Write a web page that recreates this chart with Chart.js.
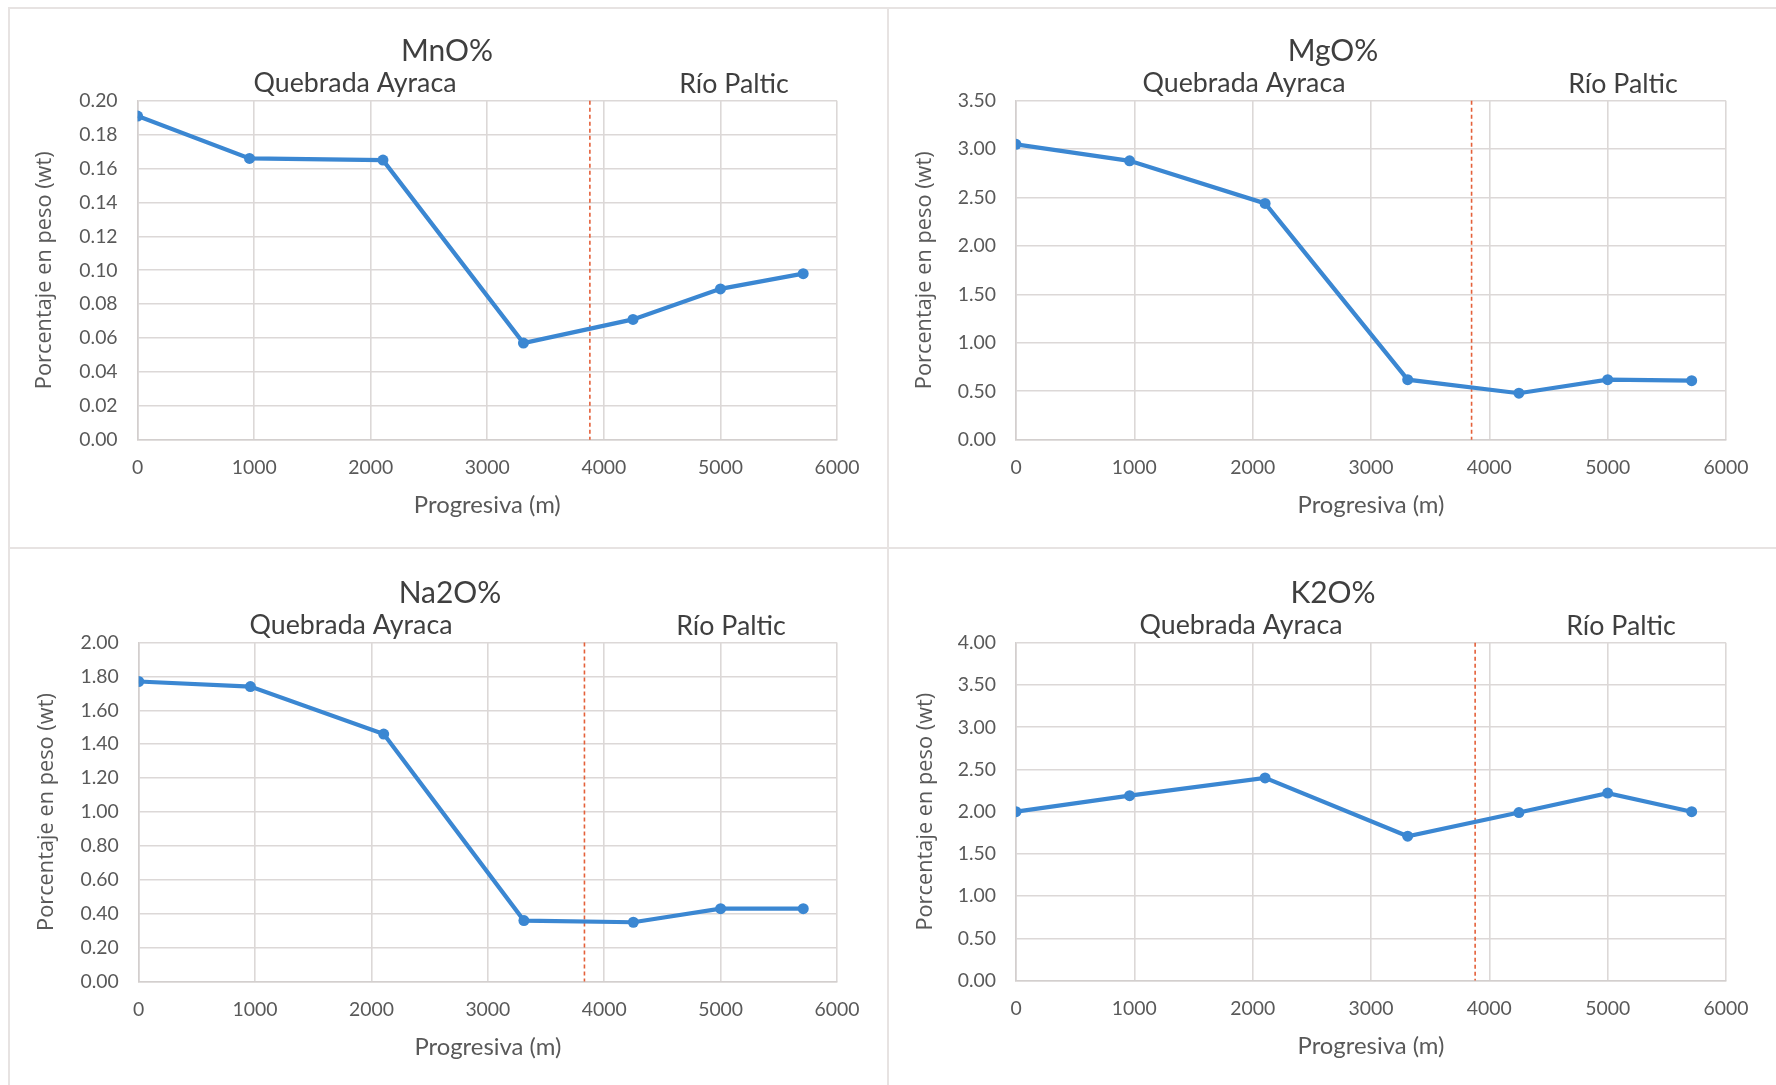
<!DOCTYPE html>
<html>
<head>
<meta charset="utf-8">
<script src="https://cdn.jsdelivr.net/npm/chart.js@4.4.1/dist/chart.umd.min.js"></script>
<style>
  html, body { margin: 0; padding: 0; background: #ffffff; }
  #page { position: relative; width: 1776px; height: 1085px; overflow: hidden; background: #ffffff; }
  .panel { position: absolute; }
  .panel canvas { display: block; }
  .rule { position: absolute; background: #e7e3e2; }
</style>
</head>
<body>
<div id="page">
  <div class="panel" style="left:0;top:0;width:888px;height:548px"><canvas id="c0" width="888" height="548"></canvas></div>
  <div class="panel" style="left:888px;top:0;width:888px;height:548px"><canvas id="c1" width="888" height="548"></canvas></div>
  <div class="panel" style="left:0;top:548px;width:888px;height:537px"><canvas id="c2" width="888" height="537"></canvas></div>
  <div class="panel" style="left:888px;top:548px;width:888px;height:537px"><canvas id="c3" width="888" height="537"></canvas></div>
  <div class="rule" style="left:8px;top:7px;width:1768px;height:2px"></div>
  <div class="rule" style="left:8px;top:7px;width:2px;height:1078px"></div>
  <div class="rule" style="left:887px;top:7px;width:2px;height:1078px"></div>
  <div class="rule" style="left:8px;top:547px;width:1768px;height:2px"></div>
</div>
<script>
// ---------------- data ----------------
const progresiva = [0, 960, 2105, 3310, 4250, 5000, 5710];          // m
const mnoValues  = [0.191, 0.166, 0.165, 0.057, 0.071, 0.089, 0.098];
const mgoValues  = [3.05, 2.88, 2.44, 0.62, 0.48, 0.62, 0.61];
const na2oValues = [1.77, 1.74, 1.46, 0.36, 0.35, 0.43, 0.43];
const k2oValues  = [2.00, 2.19, 2.40, 1.71, 1.99, 2.22, 2.00];
const chartTitles = ['MnO%', 'MgO%', 'Na2O%', 'K2O%'];
const yMaxima = [0.20, 3.50, 2.00, 4.00];
const yStepSizes = [0.02, 0.50, 0.20, 0.50];
const dividerPositions = [3880, 3850, 3830, 3880];                 // m, limit between the two streams
const xTicks = [0, 6000, 1000];                                     // min, max, step
const sectionLabels = ['Quebrada Ayraca', 'Río Paltic'];
const xAxisTitle = 'Progresiva (m)';
const yAxisTitle = 'Porcentaje en peso (wt)';

// ---------------- layout / style ----------------
const seriesList = [mnoValues, mgoValues, na2oValues, k2oValues];
const layouts = [
  { id: 'c0', W: 888, H: 548, left: 137.6, right: 837, top: 100.8, bottom: 439.7, yTitleX: 45, titleX: 447, qX: 355, rX: 734 },
  { id: 'c1', W: 888, H: 548, left: 128,   right: 838, top: 100.8, bottom: 439.7, yTitleX: 37, titleX: 445, qX: 356, rX: 735 },
  { id: 'c2', W: 888, H: 537, left: 138.7, right: 837, top: 94.5,  bottom: 433.6, yTitleX: 47, titleX: 450, qX: 351, rX: 731 },
  { id: 'c3', W: 888, H: 537, left: 128,   right: 838, top: 94.8,  bottom: 432.6, yTitleX: 38, titleX: 445, qX: 353, rX: 733 }
];

const FAMILY = 'Lato, "Open Sans", sans-serif';
const YT_FAMILY = '"Open Sans", "Noto Sans", sans-serif';
const mctx = document.createElement('canvas').getContext('2d');
function fitSize(text, family, target, weight) {
  mctx.font = (weight || 'normal') + ' 100px ' + family;
  return 100 * target / mctx.measureText(text).width;
}
const titleSize = fitSize('MnO%', FAMILY, 92);
const sectionSize = fitSize('Quebrada Ayraca', FAMILY, 203);
const tickSize = fitSize('3000', FAMILY, 45);
const xTitleSize = fitSize(xAxisTitle, FAMILY, 147);
const yTitleSize = fitSize(yAxisTitle, YT_FAMILY, 238);

const GRID = '#dcd8d7';
const TEXT_DARK = '#3f3f3f';
const TEXT_MID = '#595959';
const LINE_BLUE = '#3b87d2';
const DIVIDER = '#e4603a';

Chart.defaults.font.family = FAMILY;

const annotations = {
  id: 'annotations',
  beforeDatasetsDraw(chart, args, opts) {
    const { ctx, chartArea } = chart;
    const xs = chart.scales.x;
    const px = xs.getPixelForValue(opts.divider);
    ctx.save();
    ctx.strokeStyle = DIVIDER;
    ctx.lineWidth = 1.6;
    ctx.setLineDash([4, 3]);
    ctx.beginPath();
    ctx.moveTo(px, chartArea.top);
    ctx.lineTo(px, chartArea.bottom);
    ctx.stroke();
    ctx.restore();
  },
  afterDraw(chart, args, opts) {
    const { ctx, chartArea } = chart;
    const L = opts.layout;
    ctx.save();
    ctx.fillStyle = TEXT_DARK;
    ctx.textAlign = 'center';
    ctx.textBaseline = 'middle';
    ctx.font = 'normal ' + titleSize + 'px ' + FAMILY;
    ctx.fillText(opts.title, L.titleX, chartArea.top - 49);
    ctx.font = 'normal ' + sectionSize + 'px ' + FAMILY;
    ctx.fillText(sectionLabels[0], L.qX, chartArea.top - 17);
    ctx.fillText(sectionLabels[1], L.rX, chartArea.top - 16);
    ctx.restore();
  }
};

layouts.forEach((L, i) => {
  const values = seriesList[i];
  const points = progresiva.map((x, k) => ({ x: x, y: values[k] }));
  const xLH = xTitleSize * 1.2;
  const yLH = yTitleSize * 1.2;
  const tickLH = tickSize * 1.2;
  new Chart(document.getElementById(L.id), {
    type: 'line',
    data: {
      datasets: [{
        data: points,
        borderColor: LINE_BLUE,
        backgroundColor: LINE_BLUE,
        borderWidth: 4.2,
        pointRadius: 5.5,
        pointStyle: 'circle',
        pointBorderWidth: 0,
        tension: 0,
        fill: false
      }]
    },
    plugins: [annotations],
    options: {
      responsive: false,
      animation: false,
      devicePixelRatio: 1,
      layout: { padding: { left: 0, top: L.top, right: L.W - L.right, bottom: 0 } },
      plugins: {
        legend: { display: false },
        title: { display: false },
        tooltip: { enabled: false },
        annotations: { divider: dividerPositions[i], title: chartTitles[i], layout: L }
      },
      scales: {
        x: {
          type: 'linear',
          min: xTicks[0], max: xTicks[1],
          afterFit: s => { s.height = L.H - L.bottom; },
          ticks: {
            stepSize: xTicks[2], maxRotation: 0, autoSkip: false,
            color: TEXT_MID,
            font: { family: FAMILY, size: tickSize, lineHeight: 1.2 },
            padding: 28.5 - tickLH / 2,
            callback: v => String(Math.round(v))
          },
          grid: { color: GRID, lineWidth: 1.6, drawTicks: false },
          border: { color: '#d3cfce', width: 1.6 },
          title: {
            display: true, text: xAxisTitle, color: TEXT_MID,
            font: { family: FAMILY, size: xTitleSize, lineHeight: 1.2 },
            padding: { top: 0, bottom: (L.H - L.bottom - 65.5) - xLH / 2 }
          }
        },
        y: {
          min: 0, max: yMaxima[i],
          afterFit: s => { s.width = L.left; },
          ticks: {
            stepSize: yStepSizes[i],
            color: TEXT_MID,
            font: { family: FAMILY, size: tickSize, lineHeight: 1.2 },
            padding: 20,
            callback: v => Number(v).toFixed(2)
          },
          grid: { color: GRID, lineWidth: 1.6, drawTicks: false },
          border: { color: '#d3cfce', width: 1.6 },
          title: {
            display: true, text: yAxisTitle, color: TEXT_MID,
            font: { family: YT_FAMILY, size: yTitleSize, lineHeight: 1.2 },
            padding: { top: L.yTitleX - yLH / 2, bottom: 0 }
          }
        }
      }
    }
  });
});
</script>
</body>
</html>
